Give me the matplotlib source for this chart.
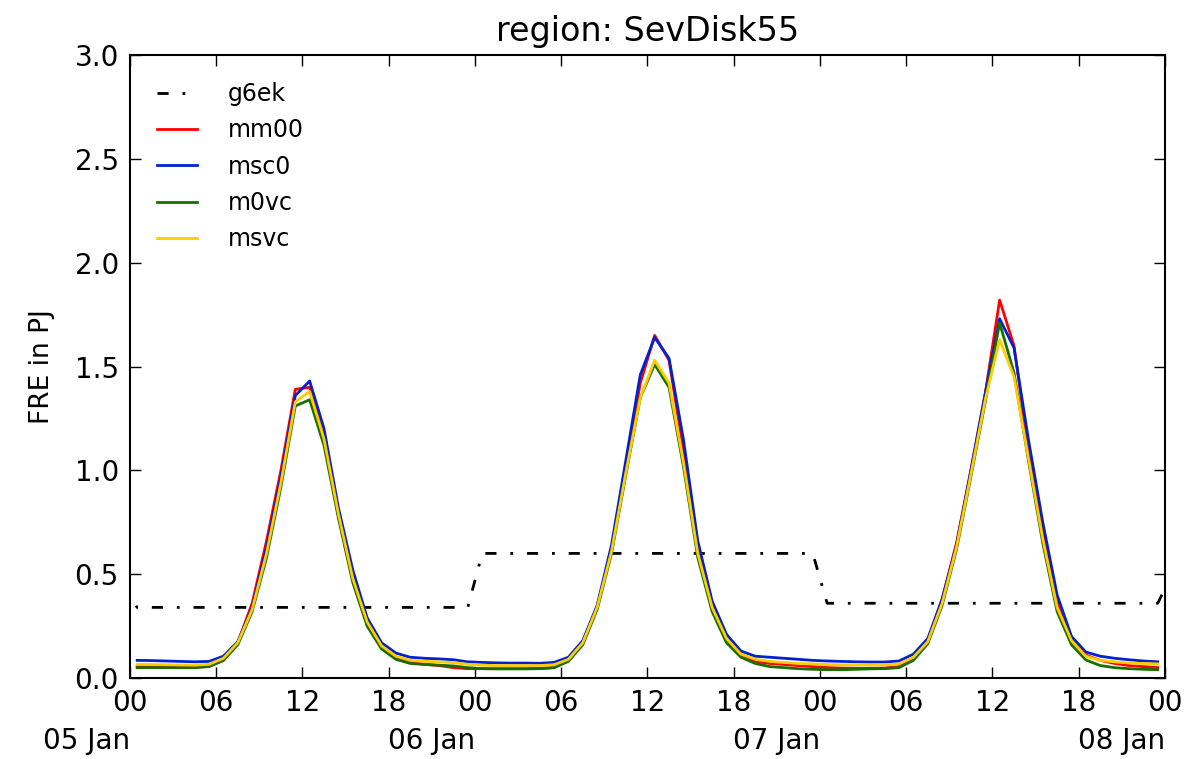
import numpy as np
import matplotlib
matplotlib.use('Agg')
import matplotlib.pyplot as plt

# hours since 05 Jan 00 UTC (values are at half-hour offsets)
hours = np.arange(72) + 0.5

mm00 = [0.055, 0.054, 0.053, 0.052, 0.052, 0.056, 0.085, 0.17, 0.36, 0.66, 1.00, 1.39, 1.40, 1.15, 0.78, 0.48, 0.26, 0.15, 0.095, 0.075, 0.066, 0.060, 0.050, 0.045,
        0.045, 0.045, 0.045, 0.045, 0.046, 0.050, 0.085, 0.165, 0.34, 0.62, 1.02, 1.42, 1.65, 1.53, 1.10, 0.62, 0.34, 0.18, 0.11, 0.080, 0.070, 0.065, 0.060, 0.055,
        0.050, 0.048, 0.047, 0.047, 0.048, 0.055, 0.09, 0.175, 0.38, 0.65, 1.00, 1.37, 1.82, 1.60, 1.10, 0.70, 0.36, 0.18, 0.11, 0.085, 0.070, 0.060, 0.055, 0.050]

msc0 = [0.085, 0.084, 0.082, 0.080, 0.078, 0.080, 0.105, 0.175, 0.34, 0.63, 0.97, 1.36, 1.43, 1.20, 0.82, 0.52, 0.29, 0.17, 0.12, 0.10, 0.095, 0.092, 0.088, 0.078,
        0.075, 0.073, 0.072, 0.072, 0.071, 0.075, 0.10, 0.18, 0.35, 0.64, 1.05, 1.46, 1.64, 1.54, 1.15, 0.66, 0.37, 0.21, 0.13, 0.105, 0.10, 0.095, 0.09, 0.085,
        0.082, 0.080, 0.078, 0.077, 0.077, 0.082, 0.115, 0.19, 0.38, 0.64, 1.00, 1.37, 1.73, 1.59, 1.15, 0.75, 0.40, 0.20, 0.125, 0.105, 0.095, 0.088, 0.082, 0.078]

m0vc = [0.050, 0.050, 0.050, 0.050, 0.050, 0.055, 0.085, 0.16, 0.32, 0.58, 0.92, 1.31, 1.34, 1.12, 0.77, 0.46, 0.25, 0.14, 0.09, 0.07, 0.065, 0.062, 0.058, 0.050,
        0.045, 0.044, 0.044, 0.044, 0.045, 0.050, 0.08, 0.16, 0.33, 0.60, 0.98, 1.35, 1.51, 1.40, 1.02, 0.58, 0.32, 0.17, 0.10, 0.07, 0.055, 0.050, 0.045, 0.042,
        0.040, 0.040, 0.042, 0.044, 0.045, 0.050, 0.085, 0.165, 0.35, 0.62, 0.97, 1.33, 1.71, 1.47, 1.05, 0.65, 0.32, 0.16, 0.087, 0.06, 0.05, 0.045, 0.042, 0.040]

msvc = [0.065, 0.065, 0.064, 0.063, 0.062, 0.066, 0.095, 0.17, 0.33, 0.60, 0.94, 1.33, 1.38, 1.15, 0.79, 0.48, 0.27, 0.155, 0.105, 0.085, 0.08, 0.078, 0.074, 0.066,
        0.062, 0.060, 0.060, 0.060, 0.060, 0.064, 0.09, 0.17, 0.34, 0.61, 0.99, 1.35, 1.53, 1.42, 1.04, 0.60, 0.34, 0.19, 0.115, 0.09, 0.08, 0.075, 0.07, 0.068,
        0.065, 0.064, 0.063, 0.063, 0.064, 0.068, 0.10, 0.175, 0.36, 0.63, 0.98, 1.34, 1.63, 1.45, 1.06, 0.67, 0.34, 0.18, 0.105, 0.085, 0.078, 0.072, 0.070, 0.068]

# daily g6ek values (step changes around midnight)
g6ek_t = [-0.5, 0.5, 23.5, 24.5, 47.5, 48.5, 71.5, 72.5]
g6ek = [0.45, 0.34, 0.34, 0.60, 0.60, 0.36, 0.36, 0.50]

tick_hours = np.arange(0, 73, 6)
tick_labels = ['00', '06', '12', '18'] * 3 + ['00']
day_hours = [0, 24, 48, 72]
day_labels = ['05 Jan', '06 Jan', '07 Jan', '08 Jan']

fig = plt.figure(figsize=(11.98, 7.59), dpi=100)
ax = fig.add_axes([0.1085, 0.1067, 0.8639, 0.8208])

ax.plot(g6ek_t, g6ek, color='black', lw=2, linestyle=(0, (4, 5, 1, 5)), label='g6ek')
ax.plot(hours, mm00, color='#ff0000', lw=2, label='mm00')
ax.plot(hours, msc0, color='#0022cc', lw=2, label='msc0')
ax.plot(hours, m0vc, color='#1a6e00', lw=2, label='m0vc')
ax.plot(hours, msvc, color='#ffcc00', lw=2, label='msvc')

ax.set_xlim(0, 72)
ax.set_ylim(0, 3.0)
ax.set_yticks(np.arange(0, 3.01, 0.5))
ax.set_xticks(tick_hours)
ax.set_xticklabels(tick_labels)
ax.tick_params(direction='in', length=8, width=1, labelsize=20, top=True, right=True, pad=8)
for s in ax.spines.values():
    s.set_linewidth(1.5)

for h, lab in zip(day_hours, day_labels):
    ax.text(h, -0.078, lab, transform=ax.get_xaxis_transform(), ha='right', va='top', fontsize=20)

ax.set_ylabel('FRE in PJ', fontsize=19, labelpad=14)
ax.set_title('region: SevDisk55', fontsize=24, pad=10)

ax.legend(loc='upper left', frameon=False, fontsize=17, handlelength=1.7, labelspacing=0.52,
          borderaxespad=0.75, handletextpad=1.3, borderpad=0.4)

fig.savefig('out.png', dpi=100)
